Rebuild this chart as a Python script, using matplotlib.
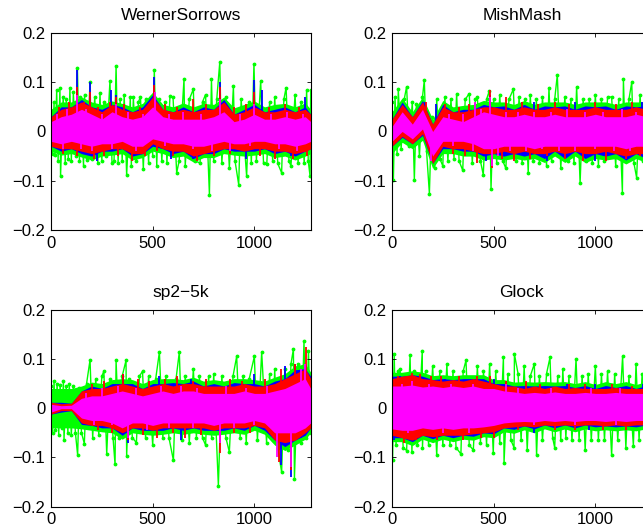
import numpy as np
import matplotlib
matplotlib.use('Agg')
from matplotlib import pyplot as plt

plt.rcParams['font.family'] = ['Liberation Sans', 'DejaVu Sans']

GREEN = '#00ff00'
BLUE = '#0000ff'
RED = '#ff0000'
MAGENTA = '#ff00ff'

# sample grid of the envelopes (every 50 samples + last one)
xg = list(range(0, 1251, 50)) + [1277]

# ---------- WernerSorrows ----------
ws_mag_hi = [0.02, 0.03, 0.035, 0.045, 0.035, 0.025, 0.04, 0.03, 0.025, 0.03, 0.05, 0.03, 0.025, 0.025,
             0.025, 0.025, 0.03, 0.04, 0.02, 0.025, 0.035, 0.025, 0.025, 0.03, 0.025, 0.03, 0.02]
ws_mag_lo = [-0.02, -0.025, -0.02, -0.025, -0.03, -0.025, -0.025, -0.02, -0.03, -0.03, -0.015, -0.02, -0.025,
             -0.025, -0.03, -0.03, -0.025, -0.02, -0.025, -0.025, -0.02, -0.02, -0.025, -0.025, -0.03, -0.025, -0.02]
ws_red_hi = [0.03, 0.045, 0.05, 0.06, 0.05, 0.04, 0.055, 0.045, 0.04, 0.045, 0.07, 0.045, 0.04, 0.045,
             0.04, 0.045, 0.045, 0.06, 0.035, 0.04, 0.05, 0.04, 0.04, 0.045, 0.04, 0.045, 0.035]
ws_red_lo = [-0.03, -0.035, -0.035, -0.04, -0.045, -0.04, -0.035, -0.035, -0.045, -0.045, -0.025, -0.035, -0.04,
             -0.04, -0.05, -0.045, -0.04, -0.035, -0.035, -0.04, -0.035, -0.035, -0.04, -0.04, -0.045, -0.04, -0.035]
ws_blue_hi = [0.03, 0.05, 0.05, 0.065, 0.05, 0.045, 0.055, 0.05, 0.04, 0.05, 0.075, 0.045, 0.04, 0.05,
              0.04, 0.05, 0.045, 0.065, 0.035, 0.045, 0.055, 0.04, 0.045, 0.05, 0.04, 0.05, 0.035]
ws_blue_lo = [-0.03, -0.04, -0.035, -0.045, -0.05, -0.04, -0.04, -0.035, -0.05, -0.045, -0.03, -0.035, -0.045,
              -0.04, -0.055, -0.045, -0.045, -0.035, -0.04, -0.04, -0.04, -0.035, -0.045, -0.04, -0.05, -0.04, -0.035]
ws_grn_hi = [0.045, 0.06, 0.06, 0.07, 0.06, 0.055, 0.062, 0.057, 0.05, 0.057, 0.08, 0.055, 0.05, 0.058,
             0.05, 0.057, 0.055, 0.07, 0.048, 0.055, 0.062, 0.05, 0.055, 0.057, 0.05, 0.058, 0.045]
ws_grn_lo = [-0.04, -0.048, -0.045, -0.052, -0.058, -0.05, -0.048, -0.045, -0.058, -0.053, -0.04, -0.045, -0.053,
             -0.05, -0.062, -0.053, -0.053, -0.045, -0.048, -0.05, -0.048, -0.045, -0.053, -0.05, -0.058, -0.05, -0.045]
ws_gx = [0, 8, 15, 20, 28, 35, 44, 47, 60, 70,
         75, 85, 93, 100, 110, 123, 130, 140, 145, 160,
         165, 175, 192, 200, 215, 230, 241, 250, 260, 270,
         290, 300, 310, 320, 330, 340, 350, 360, 372, 390,
         395, 405, 420, 430, 440, 454, 465, 480, 490, 500,
         508, 520, 530, 545, 560, 570, 585, 600, 618, 630,
         654, 660, 680, 700, 710, 733, 745, 760, 779, 789,
         800, 815, 830, 840, 860, 877, 897, 905, 923, 935,
         962, 975, 985, 998, 1010, 1031, 1045, 1061, 1075, 1090,
         1100, 1115, 1134, 1145, 1156, 1170, 1180, 1200, 1215, 1230,
         1245, 1257, 1265, 1274, 1277]
ws_gy = [0.04, -0.045, 0.06, -0.047, 0.085, -0.06, 0.089, -0.091, 0.07, -0.065,
         0.065, -0.055, 0.089, -0.06, 0.08, -0.05, 0.128, -0.06, 0.07, -0.07,
         0.075, -0.057, 0.1, -0.055, 0.07, -0.065, 0.079, -0.06, 0.06, -0.05,
         0.103, -0.065, -0.06, 0.133, -0.065, 0.065, -0.06, 0.075, -0.089, 0.07,
         -0.07, 0.069, -0.06, 0.06, 0.07, -0.077, 0.065, -0.065, 0.07, -0.05,
         0.125, -0.07, 0.065, -0.06, 0.06, -0.065, 0.072, 0.07, -0.084, -0.06,
         0.106, -0.07, 0.065, 0.086, -0.06, -0.064, 0.06, 0.075, -0.128, 0.106,
         -0.06, 0.065, 0.141, -0.065, 0.07, -0.074, 0.092, -0.06, -0.108, 0.065,
         -0.091, 0.06, -0.065, 0.137, -0.06, 0.103, -0.065, -0.067, 0.06, -0.06,
         0.07, -0.065, -0.084, 0.065, 0.089, -0.06, -0.07, 0.075, -0.065, 0.06,
         -0.065, 0.084, -0.06, -0.091, 0.084]
ws_bx = [126, 192, 297, 320, 508, 830, 1000, 1040, 1250, 228, 590, 960, 700, 1180]
ws_by = [0.125, 0.1, 0.085, 0.075, 0.11, 0.1, 0.105, 0.085, 0.07, -0.06, -0.055, -0.055, -0.055, -0.05]
ws_rx = [126, 192, 320, 508, 830, 700, 1000,
         40, 90, 160, 230, 290, 360, 440, 560, 620, 760, 900, 960, 1070, 1150, 1220,
         260, 400, 720, 1100, 460,
         60, 130, 210, 330, 520, 600, 800, 880, 1030, 1190, 1260]
ws_ry = [0.09, 0.08, 0.07, 0.095, 0.09, 0.065, 0.08,
         0.05, 0.06, 0.06, 0.05, 0.06, 0.055, 0.05, 0.055, 0.05, 0.055, 0.05, 0.055, 0.05, 0.055, 0.05,
         -0.05, -0.06, -0.06, -0.055, -0.05,
         -0.045, -0.05, -0.055, -0.05, -0.04, -0.05, -0.05, -0.045, -0.05, -0.055, -0.05]
ws_mx = [126, 320, 510, 830, 1000, 200, 880,
         30, 80, 170, 250, 380, 450, 580, 650, 740, 930, 1080, 1160, 1240,
         60, 150, 300, 420, 560, 700, 790, 980, 1120, 1210]
ws_my = [0.075, 0.055, 0.08, 0.065, 0.055, -0.04, -0.04,
         0.035, 0.045, 0.045, 0.035, 0.04, 0.035, 0.035, 0.04, 0.035, 0.035, 0.035, 0.04, 0.035,
         -0.035, -0.035, -0.035, -0.04, -0.03, -0.035, -0.04, -0.03, -0.035, -0.04]

# ---------- MishMash ----------
mm_mag_hi = [0.01, 0.04, 0.015, 0.045, 0.0, 0.03, 0.025, 0.02, 0.03, 0.04, 0.035, 0.03, 0.03, 0.035,
             0.03, 0.03, 0.035, 0.03, 0.03, 0.03, 0.035, 0.03, 0.03, 0.03, 0.035, 0.03, 0.03]
mm_mag_lo = [-0.02, 0.0, -0.015, 0.005, -0.05, -0.02, -0.02, -0.02, -0.025, -0.035, -0.035, -0.03, -0.03,
             -0.03, -0.035, -0.03, -0.03, -0.03, -0.03, -0.03, -0.03, -0.03, -0.03, -0.035, -0.03, -0.03, -0.03]
mm_red_hi = [0.025, 0.055, 0.03, 0.06, 0.015, 0.05, 0.04, 0.04, 0.045, 0.05, 0.05, 0.045, 0.045, 0.05,
             0.045, 0.045, 0.05, 0.045, 0.045, 0.045, 0.05, 0.045, 0.045, 0.045, 0.05, 0.045, 0.045]
mm_red_lo = [-0.03, -0.01, -0.025, -0.005, -0.065, -0.03, -0.035, -0.035, -0.04, -0.045, -0.045, -0.04, -0.045,
             -0.04, -0.045, -0.045, -0.04, -0.045, -0.04, -0.045, -0.045, -0.04, -0.045, -0.05, -0.045, -0.045, -0.045]
mm_blue_hi = [0.025, 0.06, 0.03, 0.063, 0.015, 0.055, 0.04, 0.045, 0.045, 0.055, 0.05, 0.052, 0.045, 0.055,
              0.045, 0.052, 0.05, 0.052, 0.045, 0.052, 0.05, 0.052, 0.045, 0.052, 0.05, 0.052, 0.045]
mm_blue_lo = [-0.03, -0.012, -0.025, -0.008, -0.065, -0.035, -0.035, -0.04, -0.04, -0.05, -0.045, -0.05, -0.045,
              -0.05, -0.045, -0.055, -0.04, -0.055, -0.04, -0.055, -0.045, -0.05, -0.045, -0.058, -0.045, -0.055,
              -0.045]
mm_grn_hi = [0.04, 0.068, 0.04, 0.07, 0.025, 0.063, 0.05, 0.053, 0.055, 0.063, 0.06, 0.06, 0.055, 0.063,
             0.055, 0.06, 0.06, 0.06, 0.055, 0.06, 0.06, 0.06, 0.055, 0.06, 0.06, 0.06, 0.055]
mm_grn_lo = [-0.045, -0.022, -0.035, -0.018, -0.075, -0.045, -0.045, -0.05, -0.05, -0.058, -0.055, -0.058,
             -0.055, -0.058, -0.055, -0.063, -0.05, -0.063, -0.05, -0.063, -0.055, -0.058, -0.055, -0.066,
             -0.055, -0.063, -0.055]
mm_gx = [0, 7, 15, 25, 31, 45, 60, 72, 85, 100,
         110, 120, 135, 150, 159, 170, 184, 195, 210, 220,
         235, 250, 260, 275, 290, 305, 318, 330, 348, 360,
         380, 395, 410, 420, 435, 449, 465, 479, 487, 500,
         515, 530, 545, 560, 575, 597, 610, 625, 640, 655,
         670, 680, 695, 710, 725, 740, 760, 772, 785, 800,
         813, 830, 850, 865, 880, 895, 908, 925, 940, 955,
         970, 985, 1000, 1015, 1030, 1045, 1060, 1080, 1100, 1115,
         1133, 1138, 1150, 1165, 1179, 1190, 1203, 1220, 1235, 1250]
mm_gy = [0.06, -0.098, 0.07, -0.045, 0.086, -0.035, 0.065, 0.091, -0.03, 0.06,
         -0.098, 0.055, -0.05, 0.07, 0.104, -0.04, -0.126, 0.03, -0.075, 0.065,
         -0.055, -0.07, 0.07, -0.06, 0.065, -0.055, 0.077, -0.06, -0.079, 0.065,
         0.077, -0.065, 0.065, 0.07, -0.06, -0.088, 0.065, 0.083, -0.117, 0.065,
         -0.065, 0.075, -0.06, -0.075, 0.065, 0.086, -0.06, 0.07, -0.065, 0.065,
         -0.084, 0.075, -0.06, 0.065, -0.065, 0.07, -0.07, 0.089, -0.06, 0.065,
         0.115, -0.075, 0.07, -0.06, 0.065, -0.065, 0.091, -0.105, 0.065, -0.06,
         0.065, -0.065, 0.075, -0.07, 0.065, -0.06, 0.07, 0.07, -0.07, 0.065,
         -0.124, 0.106, -0.06, 0.065, 0.1, -0.065, -0.094, 0.075, -0.06, 0.065]
mm_bx = [160, 215, 480, 700, 900, 1230, 460, 760, 1000]
mm_by = [0.06, 0.055, 0.075, 0.06, 0.06, 0.06, -0.06, -0.06, -0.06]
mm_rx = [165, 480, 560, 420, 490, 600, 940,
         260, 330, 380, 640, 720, 800, 870, 1000, 1100, 1180,
         300, 360, 540, 680, 760, 850, 1050, 1150, 1220]
mm_ry = [0.06, 0.085, 0.07, -0.065, -0.075, -0.06, -0.06,
         0.055, 0.05, 0.055, 0.06, 0.055, 0.06, 0.055, 0.06, 0.055, 0.06,
         -0.045, -0.05, -0.055, -0.055, -0.05, -0.055, -0.06, -0.055, -0.05]
mm_mx = [190, 410, 480, 490, 520,
         280, 350, 440, 560, 620, 700, 780, 860, 950, 1040, 1130, 1200,
         300, 400, 580, 660, 740, 820, 900, 1000, 1090, 1170]
mm_my = [-0.06, 0.06, 0.07, -0.07, -0.05,
         0.035, 0.035, 0.045, 0.04, 0.04, 0.04, 0.04, 0.045, 0.04, 0.04, 0.045, 0.04,
         -0.03, -0.04, -0.04, -0.04, -0.035, -0.04, -0.04, -0.035, -0.04, -0.04]

# ---------- sp2-5k ----------
sp_mag_hi = [0.008, 0.005, 0.006, 0.02, 0.025, 0.025, 0.03, 0.035, 0.03, 0.025, 0.03, 0.035, 0.03, 0.035,
             0.035, 0.03, 0.03, 0.03, 0.03, 0.035, 0.03, 0.03, 0.035, 0.04, 0.05, 0.06, 0.04]
sp_mag_lo = [-0.008, -0.001, -0.001, -0.02, -0.025, -0.025, -0.03, -0.04, -0.03, -0.03, -0.035, -0.03, -0.03,
             -0.03, -0.03, -0.03, -0.035, -0.03, -0.03, -0.03, -0.025, -0.03, -0.05, -0.05, -0.05, -0.04, -0.03]
sp_red_hi = [0.012, 0.009, 0.01, 0.035, 0.04, 0.04, 0.045, 0.05, 0.045, 0.04, 0.045, 0.05, 0.045, 0.05,
             0.05, 0.045, 0.045, 0.045, 0.045, 0.05, 0.045, 0.045, 0.05, 0.06, 0.07, 0.08, 0.06]
sp_red_lo = [-0.012, -0.005, -0.005, -0.03, -0.035, -0.035, -0.04, -0.05, -0.04, -0.04, -0.045, -0.04, -0.04,
             -0.04, -0.04, -0.04, -0.045, -0.04, -0.04, -0.04, -0.035, -0.04, -0.065, -0.07, -0.065, -0.05, -0.04]
sp_blue_hi = [0.012, 0.012, 0.01, 0.035, 0.045, 0.04, 0.05, 0.05, 0.05, 0.04, 0.05, 0.05, 0.052, 0.05,
              0.055, 0.045, 0.05, 0.045, 0.052, 0.05, 0.05, 0.045, 0.055, 0.06, 0.078, 0.08, 0.065]
sp_blue_lo = [-0.012, -0.008, -0.005, -0.033, -0.035, -0.04, -0.04, -0.055, -0.04, -0.045, -0.045, -0.045,
              -0.04, -0.045, -0.04, -0.045, -0.045, -0.045, -0.04, -0.045, -0.035, -0.045, -0.065, -0.078,
              -0.065, -0.055, -0.04]
sp_grn_hi = [0.04, 0.04, 0.04, 0.045, 0.053, 0.05, 0.058, 0.06, 0.058, 0.05, 0.058, 0.06, 0.06, 0.058,
             0.063, 0.055, 0.058, 0.055, 0.06, 0.06, 0.058, 0.055, 0.063, 0.07, 0.086, 0.09, 0.073]
sp_grn_lo = [-0.04, -0.04, -0.04, -0.042, -0.045, -0.048, -0.05, -0.063, -0.05, -0.053, -0.055, -0.053, -0.05,
             -0.053, -0.05, -0.053, -0.055, -0.053, -0.05, -0.053, -0.045, -0.053, -0.075, -0.086, -0.075,
             -0.063, -0.05]
sp_gx = [0, 8, 15, 22, 30, 38, 45, 53, 61, 64,
         75, 83, 90, 100, 110, 120, 131, 140, 150, 164,
         175, 192, 205, 220, 235, 250, 260, 274, 290, 305,
         315, 320, 335, 350, 369, 372, 385, 400, 420, 435,
         450, 465, 480, 500, 515, 533, 550, 565, 580, 602,
         615, 631, 645, 660, 680, 700, 715, 730, 745, 760,
         775, 790, 800, 823, 840, 860, 877, 895, 913, 930,
         945, 960, 975, 1000, 1015, 1036, 1060, 1075, 1090, 1100,
         1115, 1134, 1150, 1165, 1180, 1192, 1197, 1215, 1230, 1244,
         1255, 1266, 1277]
sp_gy = [0.045, -0.05, 0.056, -0.045, 0.05, -0.055, 0.048, -0.04, 0.056, -0.064,
         0.045, -0.05, 0.05, -0.055, 0.045, -0.05, -0.095, 0.04, -0.05, -0.072,
         0.05, 0.098, -0.06, 0.06, -0.055, 0.065, 0.075, -0.093, 0.06, -0.06,
         -0.114, 0.097, -0.06, 0.065, 0.097, -0.098, 0.06, -0.06, -0.07, 0.065,
         0.075, -0.06, 0.065, -0.075, 0.06, 0.114, -0.06, 0.065, -0.06, -0.106,
         0.06, 0.114, -0.065, 0.065, -0.07, 0.08, -0.06, 0.065, -0.06, -0.075,
         0.065, -0.06, 0.07, -0.157, 0.065, -0.06, -0.089, 0.065, 0.105, -0.06,
         0.065, -0.07, 0.06, 0.105, -0.065, 0.114, -0.07, 0.07, -0.065, 0.08,
         -0.08, -0.13, 0.08, -0.085, 0.09, 0.12, -0.143, 0.09, -0.07, 0.136,
         -0.06, 0.117, -0.05]
sp_bx = [355, 530, 690, 1000, 1150, 1200, 1260, 380, 640, 1130, 1180, 1230]
sp_by = [0.07, 0.065, 0.06, 0.07, 0.085, 0.09, 0.07, -0.07, -0.065, -0.115, -0.14, -0.06]
sp_rx = [355, 1130, 1200, 1255, 830, 1120, 1180, 380, 520,
         200, 260, 430, 480, 560, 620, 700, 760, 880, 940, 1050,
         230, 300, 450, 600, 660, 740, 900, 980]
sp_ry = [0.07, 0.08, 0.09, 0.125, -0.09, -0.11, -0.125, -0.065, -0.06,
         0.05, 0.055, 0.06, 0.055, 0.06, 0.065, 0.055, 0.06, 0.06, 0.055, 0.06,
         -0.045, -0.05, -0.055, -0.05, -0.06, -0.055, -0.05, -0.05]
sp_mx = [1110, 1180, 1250, 1230, 380, 830,
         170, 250, 330, 420, 540, 640, 720, 860, 960, 1060,
         210, 300, 470, 580, 700, 900, 1000]
sp_my = [-0.1, -0.12, 0.09, 0.08, -0.06, -0.07,
         0.03, 0.04, 0.045, 0.04, 0.045, 0.045, 0.04, 0.045, 0.04, 0.045,
         -0.035, -0.035, -0.045, -0.04, -0.04, -0.04, -0.035]

# ---------- Glock ----------
gl_mag_hi = [0.045, 0.045, 0.047, 0.043, 0.045, 0.042, 0.045, 0.042, 0.045, 0.04, 0.04, 0.035, 0.033, 0.03,
             0.032, 0.03, 0.033, 0.03, 0.03, 0.032, 0.03, 0.03, 0.032, 0.03, 0.03, 0.03, 0.03]
gl_mag_lo = [-0.042, -0.045, -0.045, -0.04, -0.043, -0.04, -0.043, -0.04, -0.04, -0.038, -0.035, -0.03, -0.028,
             -0.027, -0.028, -0.025, -0.027, -0.025, -0.027, -0.025, -0.025, -0.027, -0.025, -0.027, -0.025,
             -0.025, -0.025]
gl_red_hi = [0.06, 0.065, 0.068, 0.06, 0.058, 0.055, 0.058, 0.055, 0.06, 0.055, 0.05, 0.045, 0.045, 0.04,
             0.045, 0.04, 0.045, 0.04, 0.042, 0.04, 0.04, 0.04, 0.042, 0.04, 0.04, 0.04, 0.04]
gl_red_lo = [-0.055, -0.06, -0.065, -0.055, -0.058, -0.055, -0.055, -0.055, -0.052, -0.05, -0.048, -0.04,
             -0.038, -0.036, -0.038, -0.034, -0.036, -0.034, -0.036, -0.034, -0.034, -0.036, -0.034, -0.036,
             -0.034, -0.034, -0.034]
gl_blue_hi = [0.065, 0.065, 0.068, 0.065, 0.058, 0.06, 0.058, 0.06, 0.06, 0.06, 0.05, 0.05, 0.045, 0.046,
              0.045, 0.046, 0.045, 0.046, 0.042, 0.046, 0.04, 0.046, 0.042, 0.046, 0.04, 0.046, 0.04]
gl_blue_lo = [-0.06, -0.06, -0.068, -0.055, -0.062, -0.055, -0.06, -0.055, -0.057, -0.05, -0.052, -0.04,
              -0.043, -0.036, -0.042, -0.034, -0.04, -0.034, -0.04, -0.034, -0.038, -0.036, -0.038, -0.036,
              -0.038, -0.034, -0.038]
gl_grn_hi = [0.073, 0.073, 0.076, 0.073, 0.066, 0.068, 0.066, 0.068, 0.068, 0.068, 0.058, 0.058, 0.053, 0.054,
             0.053, 0.054, 0.053, 0.054, 0.05, 0.054, 0.048, 0.054, 0.05, 0.054, 0.048, 0.054, 0.048]
gl_grn_lo = [-0.068, -0.068, -0.076, -0.063, -0.07, -0.063, -0.068, -0.063, -0.065, -0.058, -0.06, -0.048,
             -0.051, -0.044, -0.05, -0.042, -0.048, -0.042, -0.048, -0.042, -0.046, -0.044, -0.046, -0.044,
             -0.046, -0.042, -0.046]
gl_gx = [0, 3, 11, 20, 30, 40, 55, 72, 89, 98,
         110, 125, 149, 150, 165, 180, 200, 220, 235, 250,
         270, 285, 300, 315, 339, 350, 364, 380, 400, 420,
         435, 450, 465, 480, 498, 510, 530, 548, 551, 570,
         585, 602, 600, 620, 635, 650, 665, 680, 700, 711,
         725, 740, 760, 777, 790, 800, 815, 830, 840, 855,
         870, 885, 905, 920, 935, 950, 965, 980, 1000, 1015,
         1030, 1045, 1060, 1080, 1095, 1110, 1134, 1150, 1165, 1187,
         1200, 1215, 1230, 1245, 1260, 1277]
gl_gy = [0.07, -0.106, 0.11, -0.075, 0.075, 0.08, -0.08, -0.086, 0.107, -0.089,
         0.075, -0.075, 0.117, -0.08, 0.075, -0.075, 0.085, -0.096, 0.075, -0.075,
         0.09, -0.075, 0.075, -0.08, -0.093, 0.075, 0.097, -0.075, -0.085, 0.085,
         -0.07, 0.075, -0.075, 0.09, -0.091, 0.075, -0.07, 0.103, -0.111, 0.07,
         -0.065, 0.11, -0.08, 0.07, -0.065, 0.085, -0.085, 0.065, 0.09, -0.096,
         0.065, -0.065, 0.07, 0.103, -0.06, -0.08, 0.065, -0.065, 0.08, -0.06,
         0.065, -0.065, 0.1, -0.065, 0.065, -0.085, 0.07, -0.065, 0.085, -0.065,
         0.07, -0.065, 0.075, -0.096, 0.07, -0.065, 0.105, -0.08, 0.065, -0.076,
         0.09, -0.065, 0.07, -0.065, 0.065, -0.06]
gl_bx = [40, 260, 500, 860, 1000, 1235, 10, 300, 700, 970]
gl_by = [0.065, 0.06, 0.06, 0.05, 0.05, 0.05, -0.065, -0.06, -0.05, -0.045]
gl_rx = [100, 190, 480, 660, 870, 60, 500, 800,
         30, 140, 240, 330, 420, 560, 730, 950, 1080, 1180,
         120, 220, 350, 440, 620, 900, 1040, 1150]
gl_ry = [0.072, 0.065, 0.065, 0.055, 0.05, -0.07, -0.06, -0.045,
         0.065, 0.07, 0.065, 0.065, 0.065, 0.055, 0.05, 0.05, 0.05, 0.045,
         -0.065, -0.065, -0.065, -0.06, -0.045, -0.045, -0.045, -0.045]
gl_mx = [100, 560, 50, 180, 290, 400, 620, 780, 980, 1120, 80, 250, 380, 700, 900, 1100]
gl_my = [0.055, 0.05, 0.05, 0.05, 0.05, 0.05, 0.04, 0.04, 0.04, 0.04, -0.05, -0.05, -0.05, -0.035, -0.035, -0.035]


def draw_panel(ax, title, green, bands):
    gx, gy, ghi, glo = green
    order = np.argsort(gx, kind='stable')
    gx = np.array(gx)[order]
    gy = np.array(gy)[order]
    # green trace ('.-' in the original), kept underneath the other series
    ax.fill_between(xg, glo, ghi, color=GREEN, linewidth=0, zorder=1.0)
    ax.plot(gx, gy, '-', color=GREEN, linewidth=1.0, zorder=1.05)
    ax.plot(gx, gy, '.', color=GREEN, markersize=3.5, zorder=1.1)
    z = 1.3
    for col, hi, lo, sx, sy in bands:
        ax.fill_between(xg, lo, hi, color=col, linewidth=0, zorder=z)
        ax.vlines(sx, 0, sy, color=col, linewidth=1.3, zorder=z + 0.05)
        z += 0.2
    ax.set_xlim(0, 1277)
    ax.set_ylim(-0.2, 0.2)
    ax.set_xticks([0, 500, 1000])
    ax.set_yticks([-0.2, -0.1, 0, 0.1, 0.2])
    ax.set_yticklabels(['\u22120.2', '\u22120.1', '0', '0.1', '0.2'])
    ax.tick_params(direction='in', length=3, width=0.6, top=True, right=True,
                   labelsize=12, pad=4)
    for s in ax.spines.values():
        s.set_linewidth(0.8)
    ax.set_title(title, fontsize=12.5, pad=9)


fig = plt.figure(figsize=(6.43, 5.31), dpi=100)

panels = [
    ('WernerSorrows', [0.0793, 0.5669], (ws_gx, ws_gy, ws_grn_hi, ws_grn_lo),
     [(BLUE, ws_blue_hi, ws_blue_lo, ws_bx, ws_by), (RED, ws_red_hi, ws_red_lo, ws_rx, ws_ry),
      (MAGENTA, ws_mag_hi, ws_mag_lo, ws_mx, ws_my)]),
    ('MishMash', [0.6096, 0.5669], (mm_gx, mm_gy, mm_grn_hi, mm_grn_lo),
     [(BLUE, mm_blue_hi, mm_blue_lo, mm_bx, mm_by), (RED, mm_red_hi, mm_red_lo, mm_rx, mm_ry),
      (MAGENTA, mm_mag_hi, mm_mag_lo, mm_mx, mm_my)]),
    ('sp2\u22125k', [0.0793, 0.0458], (sp_gx, sp_gy, sp_grn_hi, sp_grn_lo),
     [(BLUE, sp_blue_hi, sp_blue_lo, sp_bx, sp_by), (RED, sp_red_hi, sp_red_lo, sp_rx, sp_ry),
      (MAGENTA, sp_mag_hi, sp_mag_lo, sp_mx, sp_my)]),
    ('Glock', [0.6096, 0.0458], (gl_gx, gl_gy, gl_grn_hi, gl_grn_lo),
     [(BLUE, gl_blue_hi, gl_blue_lo, gl_bx, gl_by), (RED, gl_red_hi, gl_red_lo, gl_rx, gl_ry),
      (MAGENTA, gl_mag_hi, gl_mag_lo, gl_mx, gl_my)]),
]

for title, (x0, y0), green, bands in panels:
    ax = fig.add_axes([x0, y0, 0.4039, 0.371])
    draw_panel(ax, title, green, bands)

fig.savefig('out.png', dpi=100)
